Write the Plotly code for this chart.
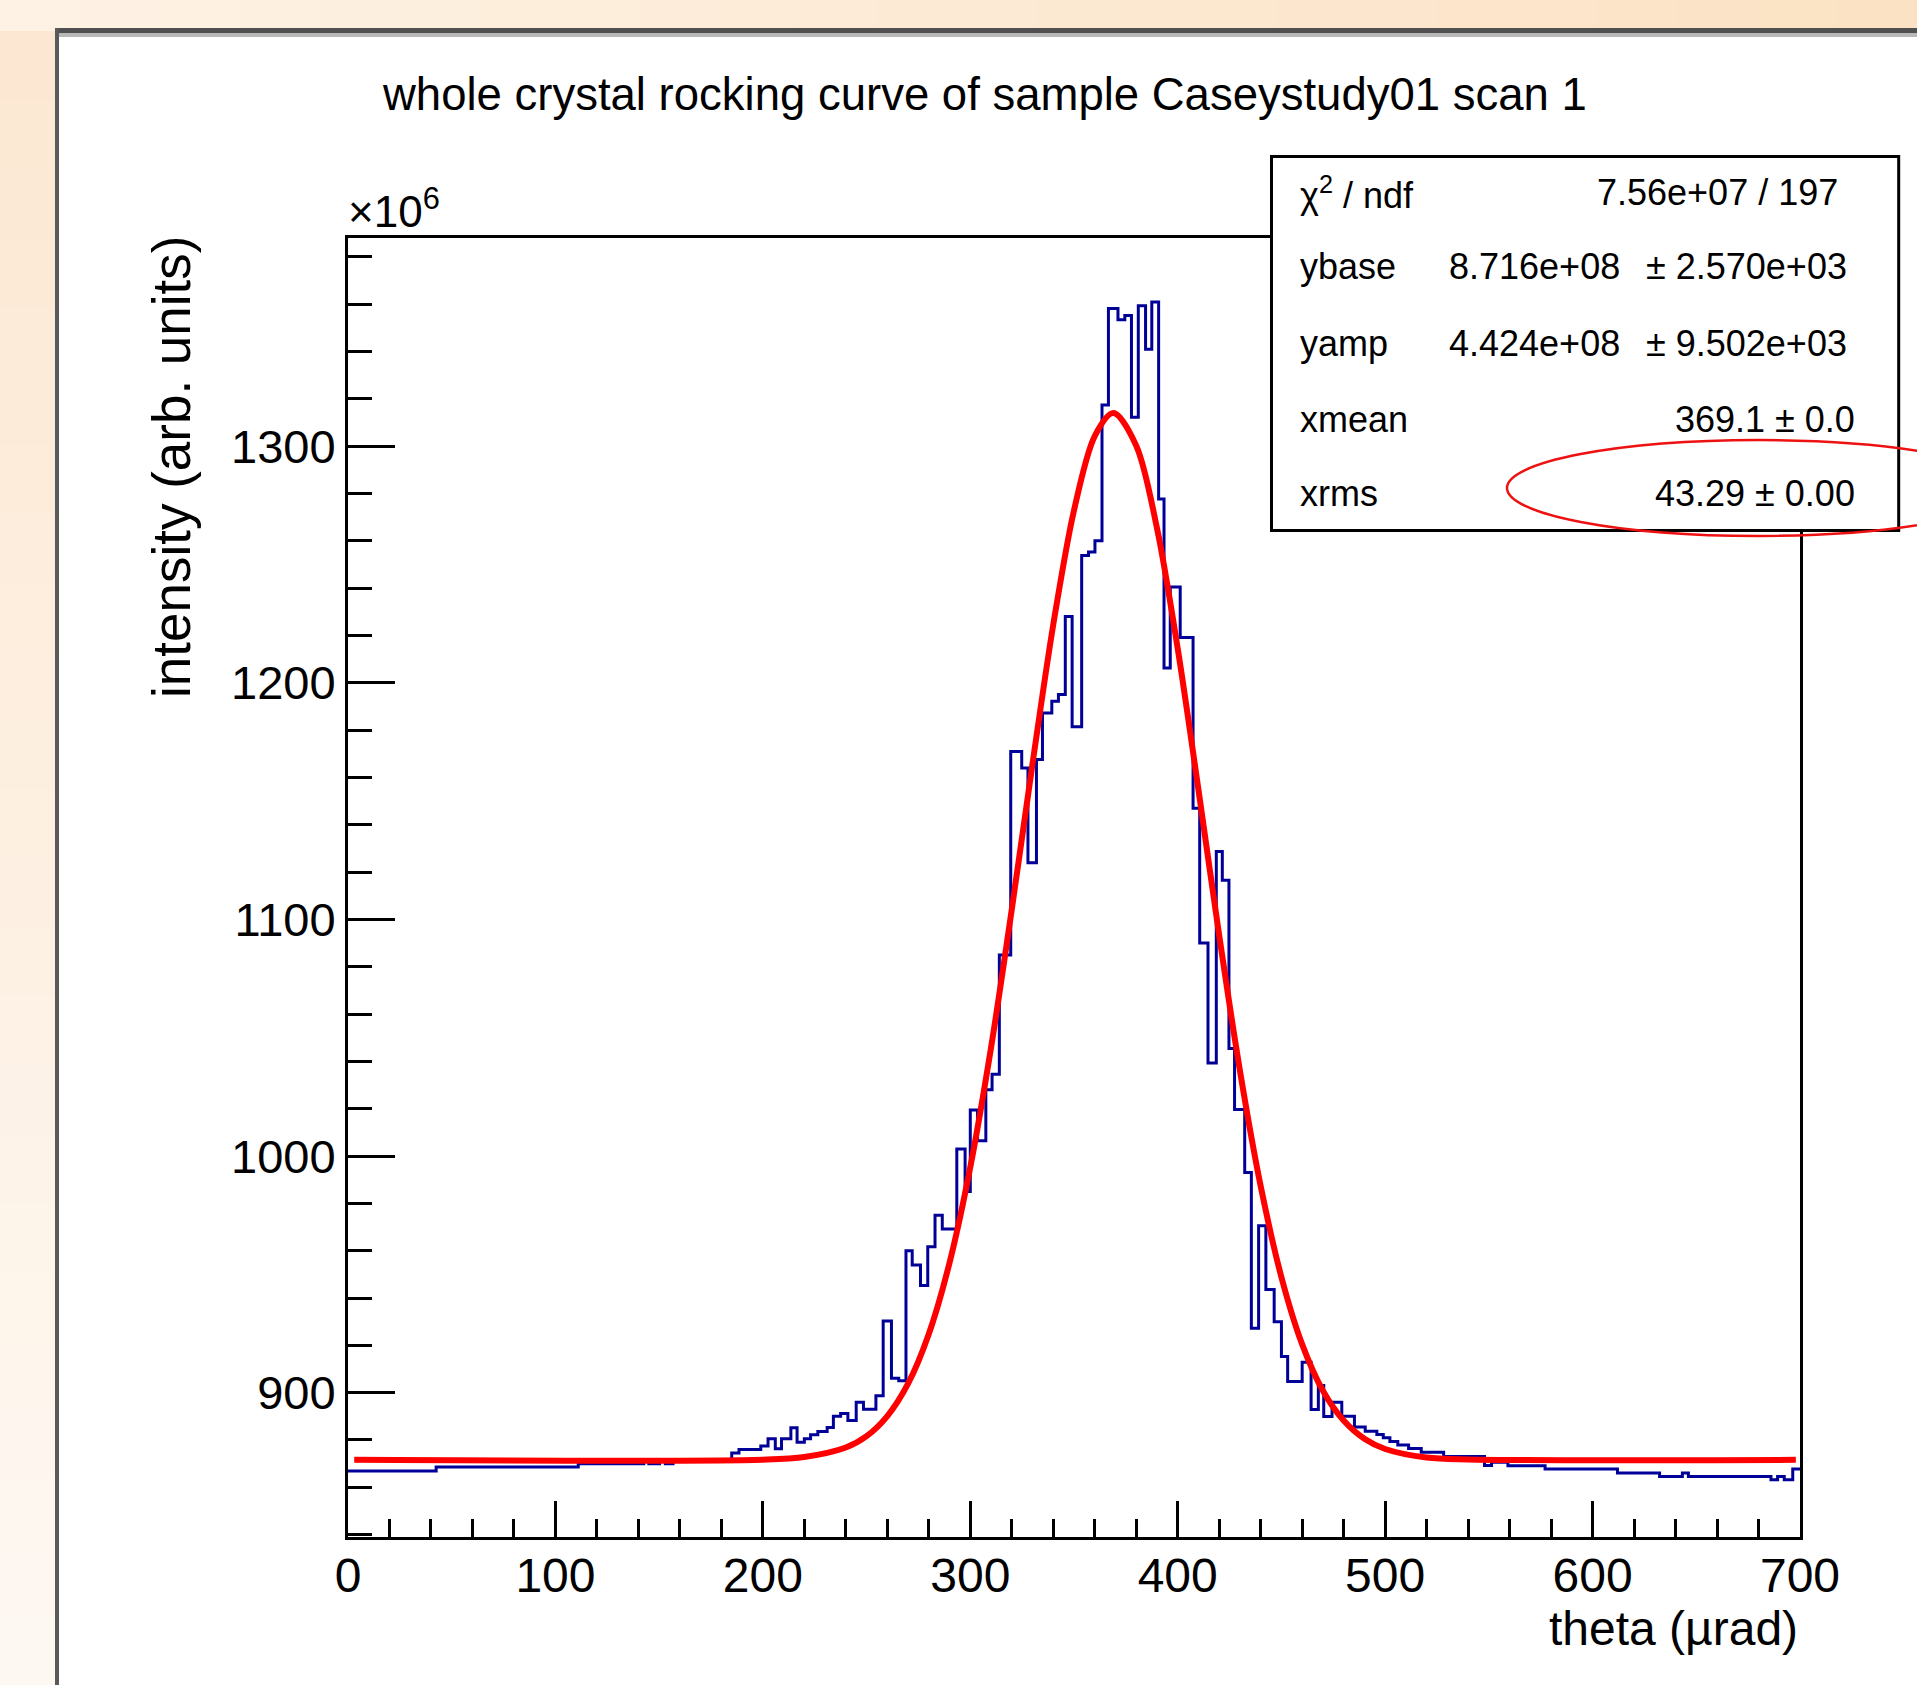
import plotly.graph_objects as go

# ---------------- data ----------------
hist_edges = [0, 42.5, 111, 142.6, 145, 150.2, 153, 156.7, 185, 188.5, 199, 202.5, 206, 209,
              213.5, 216.5, 220, 223, 226.5, 231, 234, 237.5, 241, 245, 248.5, 254.5, 258,
              262, 265.5, 269, 272, 276, 279.5, 283, 286.5, 293.5, 297.5, 300, 303.5, 307.5,
              310.5, 314, 319.5, 324.8, 327.8, 331.9, 334.8, 339.3, 342.5, 345.8, 349.1,
              353.7, 357, 360.1, 363.5, 366.6, 371.2, 374.5, 377.7, 381, 384.5, 387.5, 390.8,
              393.4, 396.4, 401.2, 407.4, 410.6, 414.6, 418.6, 421.5, 424.7, 427.4, 432.3,
              435.5, 439, 442.5, 446.5, 450, 453, 460, 464.3, 467.8, 470.4, 474.4, 479.1,
              485.2, 490.4, 496, 499.1, 502.3, 506.1, 511.3, 517.4, 528.2, 547.9, 551.3,
              559.2, 577.1, 612, 632.3, 643.3, 646.2, 686, 689.2, 692.4, 696.5, 700]
hist_values = [866.9, 868.6, 870.0, 871.5, 870.0, 871.5, 870.0, 871.8, 874.5, 876.0, 877.5,
               880.5, 876.3, 880.5, 885.2, 879.0, 880.5, 882.2, 883.6, 885.3, 890.0, 891.2,
               888.2, 896.0, 893.0, 898.7, 930.3, 906.1, 905.0, 960.0, 954.0, 945.3, 961.7,
               975.0, 969.2, 1003.0, 985.0, 1019.5, 1006.5, 1028.0, 1034.6, 1085.0, 1171.0,
               1164.0, 1124.0, 1167.6, 1187.3, 1192.2, 1195.1, 1228.0, 1181.4, 1253.8, 1255.3,
               1260.0, 1317.4, 1358.2, 1353.5, 1355.2, 1312.2, 1359.4, 1341.0, 1361.0, 1277.7,
               1206.3, 1240.5, 1219.2, 1147.0, 1090.0, 1039.3, 1128.7, 1116.6, 1045.5, 1019.7,
               993.0, 927.2, 970.5, 943.6, 930.0, 915.3, 904.7, 912.9, 892.9, 903.0, 889.9,
               896.0, 890.0, 885.5, 883.7, 882.3, 880.9, 879.4, 877.9, 876.4, 874.8, 873.0,
               869.2, 870.6, 869.1, 867.7, 866.1, 864.6, 866.0, 864.6, 863.2, 864.6, 863.2,
               867.7]

fit_x = [3, 200, 220, 240, 250, 260, 270, 280, 290, 300, 310, 320, 330, 340, 350, 360, 369,
         380, 390, 400, 410, 420, 430, 440, 450, 460, 470, 480, 490, 500, 520, 540, 698]
fit_y = [871.6, 871.7, 872.8, 876.8, 881.6, 890.1, 903.8, 924.8, 954.9, 995.3, 1045.8,
         1104.2, 1165.8, 1224.6, 1272.9, 1304.3, 1314.0, 1300.2, 1265.4, 1214.5, 1154.8,
         1093.2, 1036.1, 987.3, 948.8, 920.4, 900.8, 888.2, 880.5, 876.2, 872.6, 871.8, 871.6]

x_ticks = [0, 100, 200, 300, 400, 500, 600, 700]
y_ticks = [900, 1000, 1100, 1200, 1300]

title_text = "whole crystal rocking curve of sample Caseystudy01 scan 1"
x_title = "theta (µrad)"
y_title = "intensity (arb. units)"
exponent_text = "×10<sup>6</sup>"

stat_names = ["χ<sup>2</sup> / ndf", "ybase", "yamp", "xmean", "xrms"]
stat_vals = ["7.56e+07 / 197", "8.716e+08", "4.424e+08", "369.1 ± 0.0", "43.29 ± 0.00"]
stat_errs = ["", "± 2.570e+03", "± 9.502e+03", "", ""]

# ---------------- layout geometry (pixels) ----------------
W, H = 1917, 1685
L, R, T, B = 348, 1800, 238, 1537
FONT = "Arial, Liberation Sans, sans-serif"


def px(X, Y):
    return (X - L) / (R - L), (B - Y) / (B - T)


fig = go.Figure()
fig.add_trace(go.Scatter(
    x=hist_edges, y=hist_values + [hist_values[-1]], mode="lines",
    line=dict(color="#000099", width=3, shape="hv"), hoverinfo="skip", showlegend=False))
fig.add_trace(go.Scatter(
    x=fit_x, y=fit_y, mode="lines",
    line=dict(color="#ff0000", width=6, shape="spline", smoothing=0.9),
    hoverinfo="skip", showlegend=False))

shapes = []


def rect(X0, Y0, X1, Y1, fill, layer="below", line=None):
    x0, y0 = px(X0, Y0)
    x1, y1 = px(X1, Y1)
    d = dict(type="rect", xref="paper", yref="paper", x0=x0, y0=y0, x1=x1, y1=y1,
             fillcolor=fill, layer=layer, line=line or dict(width=0))
    shapes.append(d)


def mix(c0, c1, t):
    return "rgb(%d,%d,%d)" % tuple(round(a + (b - a) * t) for a, b in zip(c0, c1))


# peach gradient background: top band and left band
n = 24
for i in range(n):
    t = i / (n - 1)
    rect(i * W / n, -5, (i + 1) * W / n + 1, 31, mix((254, 242, 229), (251, 226, 196), t))
for i in range(n):
    t = i / (n - 1)
    rect(-5, 31 + i * (H - 31) / n, 58, 31 + (i + 1) * (H - 31) / n + 1,
         mix((252, 232, 210), (254, 248, 242), t))
# white canvas with dark border
rect(57, 30, W + 5, H + 5, "white")
rect(56, 28, W + 5, 33, "#505050")
rect(56, 33, W + 5, 37, "#b8b8b8")
rect(55, 28, 59, H + 5, "#5a5a5a")

# stats box
rect(1271.5, 156.5, 1898.7, 530.6, "white", layer="above", line=dict(color="black", width=3))

# red hand-drawn ellipse
ex0, ey0 = px(1507, 440)
ex1, ey1 = px(2010, 536)
shapes.append(dict(type="circle", xref="paper", yref="paper", x0=ex0, y0=ey0, x1=ex1, y1=ey1,
                   line=dict(color="#ee1111", width=2.5), layer="above"))

ann = []


def text(X, Y, s, size, xanchor="left", yanchor="middle", angle=0):
    x, y = px(X, Y)
    ann.append(dict(x=x, y=y, xref="paper", yref="paper", text=s, showarrow=False,
                    xanchor=xanchor, yanchor=yanchor, textangle=angle,
                    font=dict(family=FONT, size=size, color="black")))


text(984, 94, title_text, 45.5, xanchor="center")
text(346, 208, exponent_text, 44, xanchor="left")
text(1800, 1628, x_title, 48, xanchor="right")
text(171, 467, y_title, 53, xanchor="center", angle=-90)

rows_y = [193, 266.5, 343.5, 419, 494]
for i, yv in enumerate(rows_y):
    text(1298, yv, stat_names[i], 36, xanchor="left")
    if stat_errs[i]:
        text(1622, yv, stat_vals[i], 36, xanchor="right")
        text(1849, yv, stat_errs[i], 36, xanchor="right")
    elif i == 0:
        text(1840, yv, stat_vals[i], 36, xanchor="right")
    else:
        text(1857, yv, stat_vals[i], 36, xanchor="right")

fig.update_layout(
    width=W, height=H, template="none",
    margin=dict(l=L, r=W - R, t=T, b=H - B, pad=0),
    paper_bgcolor="#fdf1e4", plot_bgcolor="white",
    shapes=shapes, annotations=ann, showlegend=False,
    font=dict(family=FONT, color="black"),
)
fig.update_xaxes(
    range=[0, 700], tickvals=x_ticks, ticktext=[str(v) for v in x_ticks],
    ticks="inside", ticklen=36, tickwidth=3, tickcolor="black",
    showline=True, linecolor="black", linewidth=3, mirror=True,
    showgrid=False, zeroline=False, ticklabelstandoff=-6,
    tickfont=dict(family=FONT, size=48, color="black"),
    minor=dict(ticks="inside", ticklen=18, tickwidth=3, tickcolor="black",
               dtick=20, tick0=0, showgrid=False),
)
fig.update_yaxes(
    range=[839, 1388], tickvals=y_ticks, ticktext=[str(v) for v in y_ticks],
    ticks="inside", ticklen=47, tickwidth=3, tickcolor="black",
    showline=True, linecolor="black", linewidth=3, mirror=True,
    showgrid=False, zeroline=False, ticklabelstandoff=0,
    tickfont=dict(family=FONT, size=47, color="black"),
    minor=dict(ticks="inside", ticklen=24, tickwidth=3, tickcolor="black",
               dtick=20, tick0=0, showgrid=False),
)

fig.write_html(
    "out.html",
    config={"displayModeBar": False},
    post_script="document.body.style.margin='0px';document.body.style.overflow='hidden';",
)
